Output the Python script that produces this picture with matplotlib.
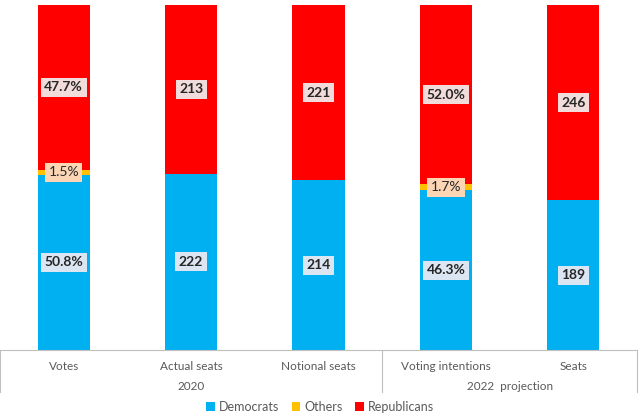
import matplotlib.pyplot as plt
import numpy as np

# categories and values
categorias = ['Votes', 'Actual seats', 'Notional seats', 'Voting intentions', 'Seats']
grupos = ['2020', '2022  projection']
democratas = [50.8, 222, 214, 46.3, 189]
outros = [1.5, 0, 0, 1.7, 0]
republicanos = [47.7, 213, 221, 52.0, 246]
eh_percentual = [True, False, False, True, False]

cor_dem = '#00B0F0'
cor_out = '#FFC000'
cor_rep = '#FF0000'

plt.rcParams['font.family'] = ['Lato', 'DejaVu Sans']

fig = plt.figure(figsize=(6.4, 4.17), dpi=100)
ax = fig.add_axes([0, 67 / 417, 637 / 640, 345 / 417])

x = np.arange(len(categorias))
tot = np.array(democratas) + np.array(outros) + np.array(republicanos)
d = np.array(democratas) / tot
o = np.array(outros) / tot
r = np.array(republicanos) / tot

larg = 0.41
ax.bar(x, d, larg, color=cor_dem, label='Democrats')
ax.bar(x, o, larg, bottom=d, color=cor_out, label='Others')
ax.bar(x, r, larg, bottom=d + o, color=cor_rep, label='Republicans')

def rotulo(v, pct):
    return f'{v:.1f}%' if pct else f'{v:g}'

for i in range(len(categorias)):
    p = eh_percentual[i]
    ax.text(x[i], d[i] / 2, rotulo(democratas[i], p), ha='center', va='center',
            fontsize=10, fontweight='bold', color='#262626',
            bbox=dict(boxstyle='square,pad=0.25', fc='#DCE6F2', ec='none'))
    ax.text(x[i], d[i] + o[i] + r[i] / 2, rotulo(republicanos[i], p), ha='center', va='center',
            fontsize=10, fontweight='bold', color='#262626',
            bbox=dict(boxstyle='square,pad=0.25', fc='#F2DCDB', ec='none'))
    if outros[i] > 0:
        ax.text(x[i], d[i] + o[i] / 2, rotulo(outros[i], p), ha='center', va='center',
                fontsize=10, color='#262626',
                bbox=dict(boxstyle='square,pad=0.25', fc='#FCD5B5', ec='none'))

ax.set_xlim(-0.5, len(categorias) - 0.5)
ax.set_ylim(0, 1)
for lado in ['top', 'right', 'left']:
    ax.spines[lado].set_visible(False)
ax.spines['bottom'].set_color('#BFBFBF')
ax.set_yticks([])
ax.set_xticks(x)
ax.set_xticklabels(categorias, fontsize=8.5, color='#595959')
ax.tick_params(axis='x', length=0, pad=8)

# group separators and labels
trans = ax.get_xaxis_transform()
for xs in [-0.5, 2.5, 4.5]:
    ax.plot([xs, xs], [0, -42 / 345], color='#BFBFBF', lw=0.8, transform=trans, clip_on=False)
ax.text(1, -36 / 345, grupos[0], transform=trans, ha='center', va='center', fontsize=8.5, color='#595959')
ax.text(3.5, -36 / 345, grupos[1], transform=trans, ha='center', va='center', fontsize=8.5, color='#595959')

fig.legend(loc='center', bbox_to_anchor=(0.5, 1 - 407 / 417), ncol=3, frameon=False,
           fontsize=9, handlelength=0.7, handleheight=0.7, handletextpad=0.3,
           columnspacing=1.0, labelcolor='#595959')

fig.savefig('out.png', dpi=100)
